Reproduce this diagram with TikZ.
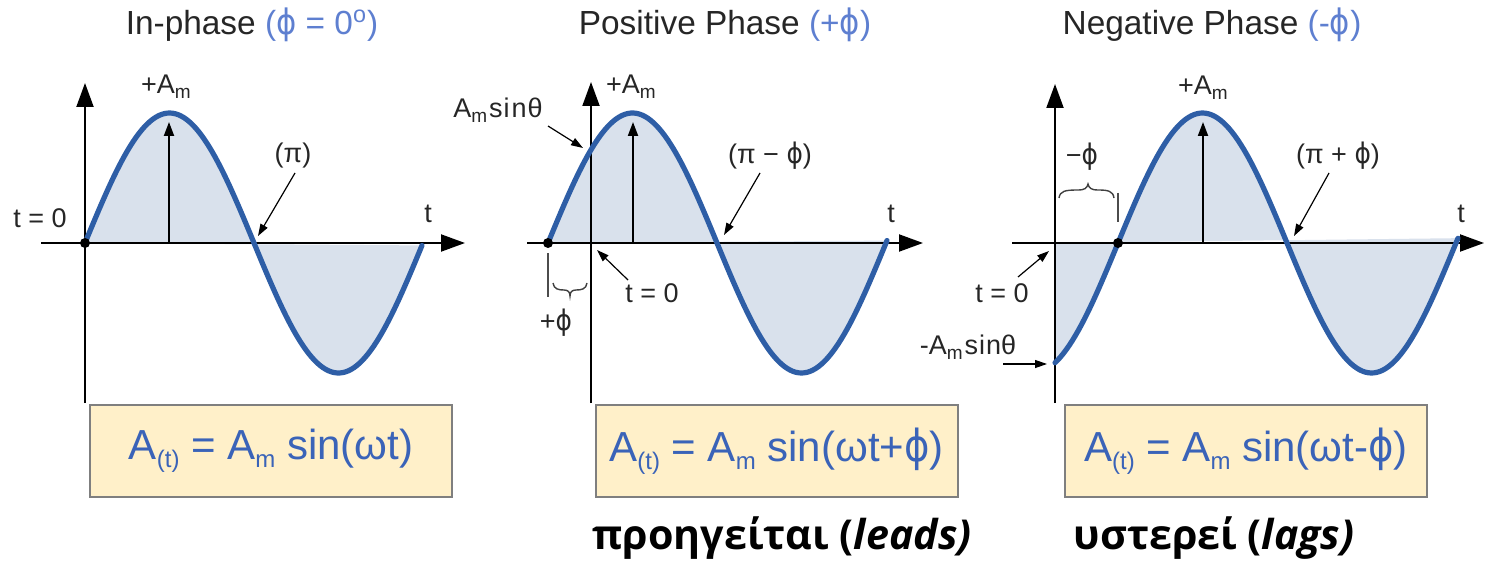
\documentclass[tikz,border=0pt]{standalone}
\usepackage{fontspec}
\setmainfont{Liberation Sans}
\newfontfamily\grk{Open Sans}
\newfontfamily\djv{DejaVu Sans}
\usetikzlibrary{arrows.meta}
\definecolor{wave}{HTML}{2E5EA6}
\definecolor{wavefill}{HTML}{D9E1EC}
\definecolor{boxfill}{HTML}{FFF0C9}
\definecolor{boxline}{HTML}{7F7F7F}
\definecolor{eqblue}{HTML}{3A63B8}
\definecolor{ttlblue}{HTML}{5E7FD0}
\definecolor{ink}{HTML}{262626}
\newcommand\eqsub[1]{\raisebox{-4pt}{\fontsize{12}{12}\selectfont #1}}
\newcommand\lsub[1]{\raisebox{-2.5pt}{\fontsize{9.5}{9.5}\selectfont #1}}
\newcommand\phis{{\djv\scalebox{0.92}[1.05]{ϕ}}}
\tikzset{
 axisline/.style={line width=1pt, -{Triangle[length=12pt,width=8.5pt]}},
 wavecurve/.style={draw=wave, line width=2.6pt, line cap=round, line join=round},
 wavearea/.style={fill=wavefill},
 peakarrow/.style={line width=1pt, -{Triangle[length=7pt,width=5pt]}},
 lblarrow/.style={line width=0.6pt, -{Triangle[length=6pt,width=4pt]}},
 ticklinestyle/.style={line width=0.8pt, draw=black!70},
 bracestyle/.style={line width=0.7pt, draw=black!75},
 lbl/.style={font=\fontsize{13.5}{15}\selectfont, text=ink, inner sep=0pt},
 ttl/.style={font=\fontsize{16.7}{19}\selectfont, text=ink, inner sep=0pt, anchor=base},
 eqbox/.style={draw=boxline, line width=1pt, fill=boxfill, minimum width=181pt, minimum height=46pt, inner sep=0pt, font=\fontsize{21}{24}\selectfont, text=eqblue},
 grtext/.style={font=\grk\bfseries\fontsize{20.6}{23}\selectfont, text=black, inner sep=0pt, anchor=base},
 dotmark/.style={circle, fill=black, inner sep=0pt, minimum size=5pt},
}
\begin{document}
\begin{tikzpicture}[x=0.5pt,y=-0.5pt]
\useasboundingbox (0,0) rectangle (1492,561);

% ---------- titles ----------
\node[ttl] (t1) at (252,35) {In-phase {\color{ttlblue}(\phis{} = 0\textsuperscript{o})}};
\node[ttl] (t2) at (725,35) {Positive Phase {\color{ttlblue}(+\phis)}};
\node[ttl] (t3) at (1212,35) {Negative Phase {\color{ttlblue}(-\phis)}};

% ---------- panel 1 ----------
\fill[wavearea] plot[domain=85:422,samples=120] (\x,{243-130*sin(1.065089*(\x-85))}) -- cycle;
\coordinate (x1a) at (41,243); \coordinate (x1b) at (465,243);
\coordinate (y1a) at (85,403); \coordinate (y1b) at (85,83);
\draw[axisline] (x1a) -- (x1b);
\draw[axisline] (y1a) -- (y1b);
\coordinate (p1a) at (169,243); \coordinate (p1b) at (169,122);
\draw[peakarrow] (p1a) -- (p1b);
\draw[wavecurve] plot[domain=85:422,samples=120] (\x,{243-130*sin(1.065089*(\x-85))});
\node[dotmark] (d1) at (85,243) {};
\node[lbl] (am1) at (166,87) {+A\lsub{m}};
\node[lbl] (tz1) at (40,218) {t = 0};
\node[lbl] (tt1) at (428,214) {t};
\node[lbl] (pi1) at (293,156) {(π)};
\coordinate (a1s) at (295,173); \coordinate (a1e) at (258,236);
\draw[lblarrow] (a1s) -- (a1e);
\node[eqbox] (eq1) at (271,451) {A\eqsub{(t)} = A\eqsub{m} sin(ωt)};

% ---------- panel 2 ----------
\fill[wavearea] plot[domain=548:887,samples=120] (\x,{243-130*sin(1.065089*(\x-548))}) -- cycle;
\coordinate (x2a) at (527,243); \coordinate (x2b) at (923,243);
\coordinate (y2a) at (591,403); \coordinate (y2b) at (591,82);
\draw[axisline] (x2a) -- (x2b);
\draw[axisline] (y2a) -- (y2b);
\coordinate (p2a) at (633,243); \coordinate (p2b) at (633,122);
\draw[peakarrow] (p2a) -- (p2b);
\draw[wavecurve] plot[domain=548:887,samples=120] (\x,{243-130*sin(1.065089*(\x-548))});
\node[dotmark] (d2) at (548,243) {};
\node[lbl] (am2) at (631,87) {+A\lsub{m}};
\node[lbl] (sn2) at (498,110) {A\lsub{m}\kern1pt s\kern0.5pt i\kern1pt n\kern0.5pt θ};
\coordinate (a2s) at (548,126); \coordinate (a2e) at (583,148);
\draw[lblarrow] (a2s) -- (a2e);
\node[lbl] (pi2) at (770,156) {(π − \phis)};
\coordinate (b2s) at (760,173); \coordinate (b2e) at (724,235);
\draw[lblarrow] (b2s) -- (b2e);
\node[lbl] (tt2) at (891,214) {t};
\node[lbl] (tz2) at (652,293) {t = 0};
\coordinate (c2s) at (628,280); \coordinate (c2e) at (597,250);
\draw[lblarrow] (c2s) -- (c2e);
\coordinate (k2a) at (548,253); \coordinate (k2b) at (548,297);
\draw[ticklinestyle] (k2a) -- (k2b);
\draw[bracestyle] (553,283) .. controls (554,289) and (558,290) .. (564,290)
  .. controls (568,290) and (570,292) .. (570,296)
  .. controls (570,292) and (572,290) .. (576,290)
  .. controls (582,290) and (586,289) .. (587,283);
\node[lbl] (ph2) at (556,323) {+\phis};
\node[eqbox] (eq2) at (776.5,451) {A\eqsub{(t)} = A\eqsub{m} sin(ωt+\phis)};

% ---------- panel 3 ----------
\fill[wavearea] plot[domain=1055:1458,samples=140] (\x,{243-130*sin(1.065089*(\x-1118))}) -- (1055,243) -- cycle;
\coordinate (x3a) at (1012,243); \coordinate (x3b) at (1484,243);
\coordinate (y3a) at (1055,403); \coordinate (y3b) at (1055,84);
\draw[axisline] (x3a) -- (x3b);
\draw[axisline] (y3a) -- (y3b);
\coordinate (p3a) at (1203,243); \coordinate (p3b) at (1203,122);
\draw[peakarrow] (p3a) -- (p3b);
\draw[wavecurve] plot[domain=1055:1458,samples=140] (\x,{243-130*sin(1.065089*(\x-1118))});
\node[dotmark] (d3) at (1118,243) {};
\node[lbl] (am3) at (1203,88) {+A\lsub{m}};
\node[lbl] (pi3) at (1338,156) {(π + \phis)};
\coordinate (b3s) at (1329,173); \coordinate (b3e) at (1294,236);
\draw[lblarrow] (b3s) -- (b3e);
\node[lbl] (tt3) at (1461,214) {t};
\node[lbl] (ph3) at (1082,157) {−\phis};
\draw[bracestyle] (1059,198) .. controls (1060,191) and (1065,190) .. (1078,190)
  .. controls (1085,190) and (1087,188) .. (1088,184)
  .. controls (1089,188) and (1091,190) .. (1098,190)
  .. controls (1108,190) and (1113,191) .. (1114,198);
\coordinate (k3a) at (1118,193); \coordinate (k3b) at (1118,222);
\draw[ticklinestyle] (k3a) -- (k3b);
\node[lbl] (tz3) at (1002,293) {t = 0};
\coordinate (c3s) at (1018,277); \coordinate (c3e) at (1049,251);
\draw[lblarrow] (c3s) -- (c3e);
\node[lbl] (sn3) at (968,347) {-A\lsub{m}\kern1pt s\kern0.5pt i\kern0.5pt nθ};
\coordinate (e3s) at (1003,364); \coordinate (e3e) at (1047,364);
\draw[lblarrow] (e3s) -- (e3e);
\node[eqbox] (eq3) at (1246,451) {A\eqsub{(t)} = A\eqsub{m} sin(ωt-\phis)};

% ---------- bottom texts ----------
\node[grtext] (lead) at (782,549) {προηγείται (\textit{leads)}};
\node[grtext] (lag) at (1214,549) {υστερεί (\textit{lags)}};
\end{tikzpicture}
\end{document}
